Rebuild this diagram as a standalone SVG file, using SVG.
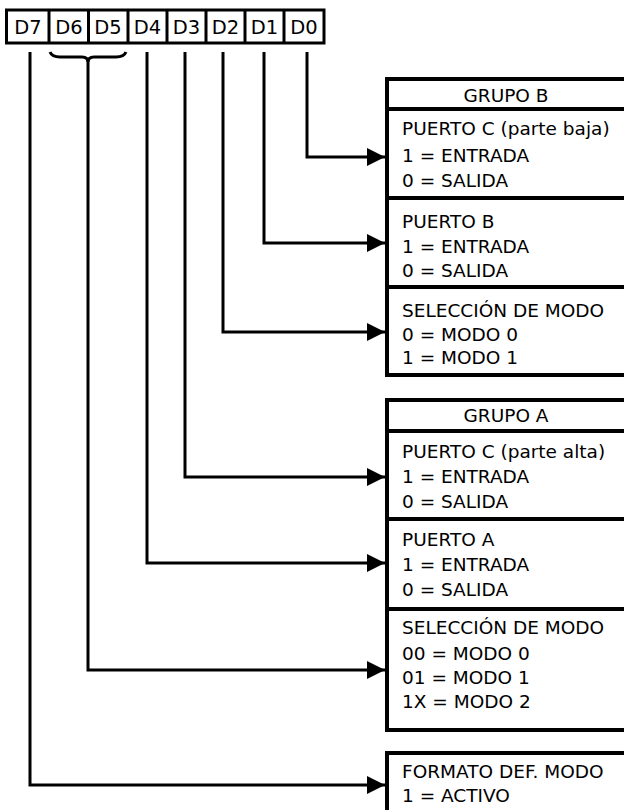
<svg xmlns="http://www.w3.org/2000/svg" width="624" height="810" viewBox="0 0 624 810">
<style>
text{font-family:"DejaVu Sans","Liberation Sans",sans-serif;font-size:18.5px;fill:#000}
.c{text-anchor:middle}
.r{text-anchor:middle;font-size:19.5px}
.box{fill:#fff;stroke:#000;stroke-width:4}
.sep{stroke:#000;stroke-width:4}
.reg{fill:#fff;stroke:#000;stroke-width:3}
.wire{fill:none;stroke:#000;stroke-width:3}
</style>
<defs>
<marker id="ah" markerUnits="userSpaceOnUse" markerWidth="20" markerHeight="20" refX="18" refY="9" orient="auto" viewBox="0 0 20 18">
<path d="M0,0 L18,9 L0,18 Z" fill="#000"/>
</marker>
</defs>
<rect width="624" height="810" fill="#fff"/>
<g id="register">
<rect class="reg" x="6.5" y="10" width="317.5" height="33"/>
<path class="reg" d="M49,10V43M88.5,10V43M128,10V43M167,10V43M206,10V43M245,10V43M284,10V43"/>
<text class="r" x="28" y="34">D7</text>
<text class="r" x="69" y="34">D6</text>
<text class="r" x="108" y="34">D5</text>
<text class="r" x="147.5" y="34">D4</text>
<text class="r" x="186.5" y="34">D3</text>
<text class="r" x="225.5" y="34">D2</text>
<text class="r" x="264.5" y="34">D1</text>
<text class="r" x="304" y="34">D0</text>
</g>
<g id="connectors">
<path class="wire" d="M50,52 Q52,57 60,57 L82,57 Q88,57 88,62 M126,52 Q124,57 116,57 L94,57 Q88,57 88,62"/>
<path class="wire" marker-end="url(#ah)" d="M307,52 V157 H385"/>
<path class="wire" marker-end="url(#ah)" d="M264,52 V243 H385"/>
<path class="wire" marker-end="url(#ah)" d="M223,52 V332 H385"/>
<path class="wire" marker-end="url(#ah)" d="M185,52 V477 H385"/>
<path class="wire" marker-end="url(#ah)" d="M147,52 V563 H385"/>
<path class="wire" marker-end="url(#ah)" d="M88,60 V670 H385"/>
<path class="wire" marker-end="url(#ah)" d="M30,52 V785 H385"/>
</g>
<g id="grupoB">
<rect class="box" x="387" y="79" width="245" height="296"/>
<text class="c" x="506" y="102">GRUPO B</text>
<line class="sep" x1="387" y1="109" x2="630" y2="109"/>
</g>
<g id="puertoC_baja">
<text x="402" y="135">PUERTO C (parte baja)</text>
<text x="402" y="162">1 = ENTRADA</text>
<text x="402" y="187">0 = SALIDA</text>
<line class="sep" x1="387" y1="198" x2="630" y2="198"/>
</g>
<g id="puertoB">
<text x="402" y="228">PUERTO B</text>
<text x="402" y="253">1 = ENTRADA</text>
<text x="402" y="277">0 = SALIDA</text>
<line class="sep" x1="387" y1="287" x2="630" y2="287"/>
</g>
<g id="modoB">
<text x="402" y="317">SELECCIÓN DE MODO</text>
<text x="402" y="341">0 = MODO 0</text>
<text x="402" y="364">1 = MODO 1</text>
</g>
<g id="grupoA">
<rect class="box" x="387" y="400" width="245" height="330"/>
<text class="c" x="506" y="422">GRUPO A</text>
<line class="sep" x1="387" y1="431" x2="630" y2="431"/>
</g>
<g id="puertoC_alta">
<text x="402" y="458">PUERTO C (parte alta)</text>
<text x="402" y="483">1 = ENTRADA</text>
<text x="402" y="508">0 = SALIDA</text>
<line class="sep" x1="387" y1="519" x2="630" y2="519"/>
</g>
<g id="puertoA">
<text x="402" y="546">PUERTO A</text>
<text x="402" y="571">1 = ENTRADA</text>
<text x="402" y="596">0 = SALIDA</text>
<line class="sep" x1="387" y1="609" x2="630" y2="609"/>
</g>
<g id="modoA">
<text x="402" y="634">SELECCIÓN DE MODO</text>
<text x="402" y="660">00 = MODO 0</text>
<text x="402" y="684">01 = MODO 1</text>
<text x="402" y="708">1X = MODO 2</text>
</g>
<g id="formato">
<rect class="box" x="387" y="753" width="245" height="80"/>
<text x="402" y="778">FORMATO DEF. MODO</text>
<text x="402" y="802">1 = ACTIVO</text>
</g>
</svg>
